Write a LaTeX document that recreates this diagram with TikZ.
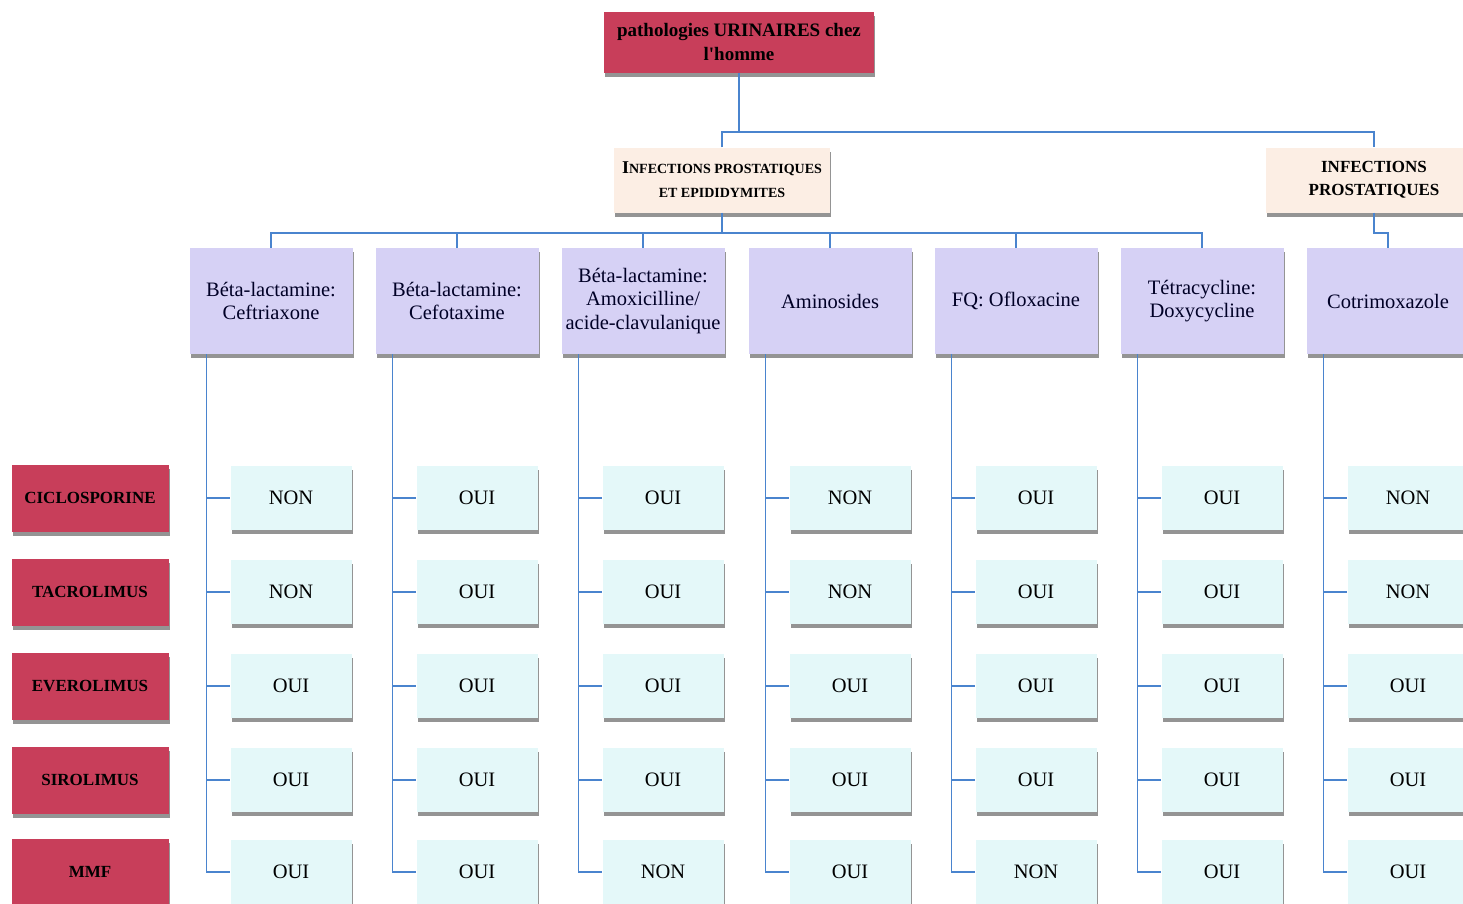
\documentclass[tikz,border=0pt]{standalone}
\usepackage{fontspec}
\setmainfont{Liberation Serif}
\usetikzlibrary{shadows}
\definecolor{rouge}{RGB}{200,62,90}
\definecolor{peche}{RGB}{252,238,228}
\definecolor{lavande}{RGB}{214,209,245}
\definecolor{cyanpale}{RGB}{228,248,249}
\definecolor{bleulien}{RGB}{74,132,206}
\tikzset{
  boite/.style={rectangle, inner sep=2pt, align=center, drop shadow={shadow xshift=1pt, shadow yshift=-4pt, fill=black!70, opacity=0.6}},
  titre/.style={boite, fill=rouge, minimum width=270pt, minimum height=61pt, font=\fontsize{19}{24}\selectfont\bfseries},
  infect/.style={boite, fill=peche, minimum width=216pt, minimum height=65pt},
  medoc/.style={boite, fill=lavande, minimum width=163pt, minimum height=106pt, text=black!85!blue, font=\fontsize{20.5}{23.5}\selectfont},
  rep/.style={boite, fill=cyanpale, minimum width=121pt, minimum height=64pt, font=\fontsize{20.5}{23}\selectfont},
  immuno/.style={boite, fill=rouge, minimum width=157pt, minimum height=67pt, font=\fontsize{17}{20}\selectfont\bfseries},
  lien/.style={draw=bleulien, line width=1.6pt}
}
\begin{document}
\begin{tikzpicture}[x=1pt, y=-1pt]
\clip (0,0) rectangle (1463,903);
\node[titre] (top) at (739,42) {pathologies URINAIRES chez\\l\textquotesingle homme};
\node[infect, font=\fontsize{14}{24}\selectfont\bfseries] (ipe) at (722,180) {{\fontsize{18}{24}\selectfont I}NFECTIONS PROSTATIQUES\\ET EPIDIDYMITES};
\node[infect, font=\fontsize{17}{23}\selectfont\bfseries] (ip) at (1374,180) {INFECTIONS\\PROSTATIQUES};
\coordinate (j0) at (739,132);
\coordinate (j1) at (722,233);
\coordinate (j2) at (1374,233);
\node[medoc] (m1) at (271,301) {Béta-lactamine:\\Ceftriaxone};
\node[medoc] (m2) at (457,301) {Béta-lactamine:\\Cefotaxime};
\node[medoc] (m3) at (643,301) {Béta-lactamine:\\Amoxicilline/\\acide-clavulanique};
\node[medoc] (m4) at (830,301) {Aminosides};
\node[medoc] (m5) at (1016,301) {FQ: Ofloxacine};
\node[medoc] (m6) at (1202,301) {Tétracycline:\\Doxycycline};
\node[medoc] (m7) at (1388,301) {Cotrimoxazole};
\draw[lien] (top.south) -- (j0);
\draw[lien] (ipe.north) |- (j0) -| (ip.north);
\draw[lien] (ipe.south) -- (j1) (m1.north) |- (j1) -| (m6.north) (j1) -| (m2.north) (j1) -| (m3.north) (j1) -| (m4.north) (j1) -| (m5.north);
\draw[lien] (ip.south) -- (j2) -| (m7.north);
\node[immuno] (r1) at (90,498) {CICLOSPORINE};
\node[immuno] (r2) at (90,592) {TACROLIMUS};
\node[immuno] (r3) at (90,686) {EVEROLIMUS};
\node[immuno] (r4) at (90,780) {SIROLIMUS};
\node[immuno] (r5) at (90,872) {MMF};
\node[rep] (a11) at (291,498) {NON};
\node[rep] (a12) at (291,592) {NON};
\node[rep] (a13) at (291,686) {OUI};
\node[rep] (a14) at (291,780) {OUI};
\node[rep] (a15) at (291,872) {OUI};
\node[rep] (a21) at (477,498) {OUI};
\node[rep] (a22) at (477,592) {OUI};
\node[rep] (a23) at (477,686) {OUI};
\node[rep] (a24) at (477,780) {OUI};
\node[rep] (a25) at (477,872) {OUI};
\node[rep] (a31) at (663,498) {OUI};
\node[rep] (a32) at (663,592) {OUI};
\node[rep] (a33) at (663,686) {OUI};
\node[rep] (a34) at (663,780) {OUI};
\node[rep] (a35) at (663,872) {NON};
\node[rep] (a41) at (850,498) {NON};
\node[rep] (a42) at (850,592) {NON};
\node[rep] (a43) at (850,686) {OUI};
\node[rep] (a44) at (850,780) {OUI};
\node[rep] (a45) at (850,872) {OUI};
\node[rep] (a51) at (1036,498) {OUI};
\node[rep] (a52) at (1036,592) {OUI};
\node[rep] (a53) at (1036,686) {OUI};
\node[rep] (a54) at (1036,780) {OUI};
\node[rep] (a55) at (1036,872) {NON};
\node[rep] (a61) at (1222,498) {OUI};
\node[rep] (a62) at (1222,592) {OUI};
\node[rep] (a63) at (1222,686) {OUI};
\node[rep] (a64) at (1222,780) {OUI};
\node[rep] (a65) at (1222,872) {OUI};
\node[rep] (a71) at (1408,498) {NON};
\node[rep] (a72) at (1408,592) {NON};
\node[rep] (a73) at (1408,686) {OUI};
\node[rep] (a74) at (1408,780) {OUI};
\node[rep] (a75) at (1408,872) {OUI};
\draw[lien] (m1.south west) ++(17,0) coordinate (t1) |- (a15.west) (t1) |- (a11.west) (t1) |- (a12.west) (t1) |- (a13.west) (t1) |- (a14.west);
\draw[lien] (m2.south west) ++(17,0) coordinate (t2) |- (a25.west) (t2) |- (a21.west) (t2) |- (a22.west) (t2) |- (a23.west) (t2) |- (a24.west);
\draw[lien] (m3.south west) ++(17,0) coordinate (t3) |- (a35.west) (t3) |- (a31.west) (t3) |- (a32.west) (t3) |- (a33.west) (t3) |- (a34.west);
\draw[lien] (m4.south west) ++(17,0) coordinate (t4) |- (a45.west) (t4) |- (a41.west) (t4) |- (a42.west) (t4) |- (a43.west) (t4) |- (a44.west);
\draw[lien] (m5.south west) ++(17,0) coordinate (t5) |- (a55.west) (t5) |- (a51.west) (t5) |- (a52.west) (t5) |- (a53.west) (t5) |- (a54.west);
\draw[lien] (m6.south west) ++(17,0) coordinate (t6) |- (a65.west) (t6) |- (a61.west) (t6) |- (a62.west) (t6) |- (a63.west) (t6) |- (a64.west);
\draw[lien] (m7.south west) ++(17,0) coordinate (t7) |- (a75.west) (t7) |- (a71.west) (t7) |- (a72.west) (t7) |- (a73.west) (t7) |- (a74.west);
\end{tikzpicture}
\end{document}
